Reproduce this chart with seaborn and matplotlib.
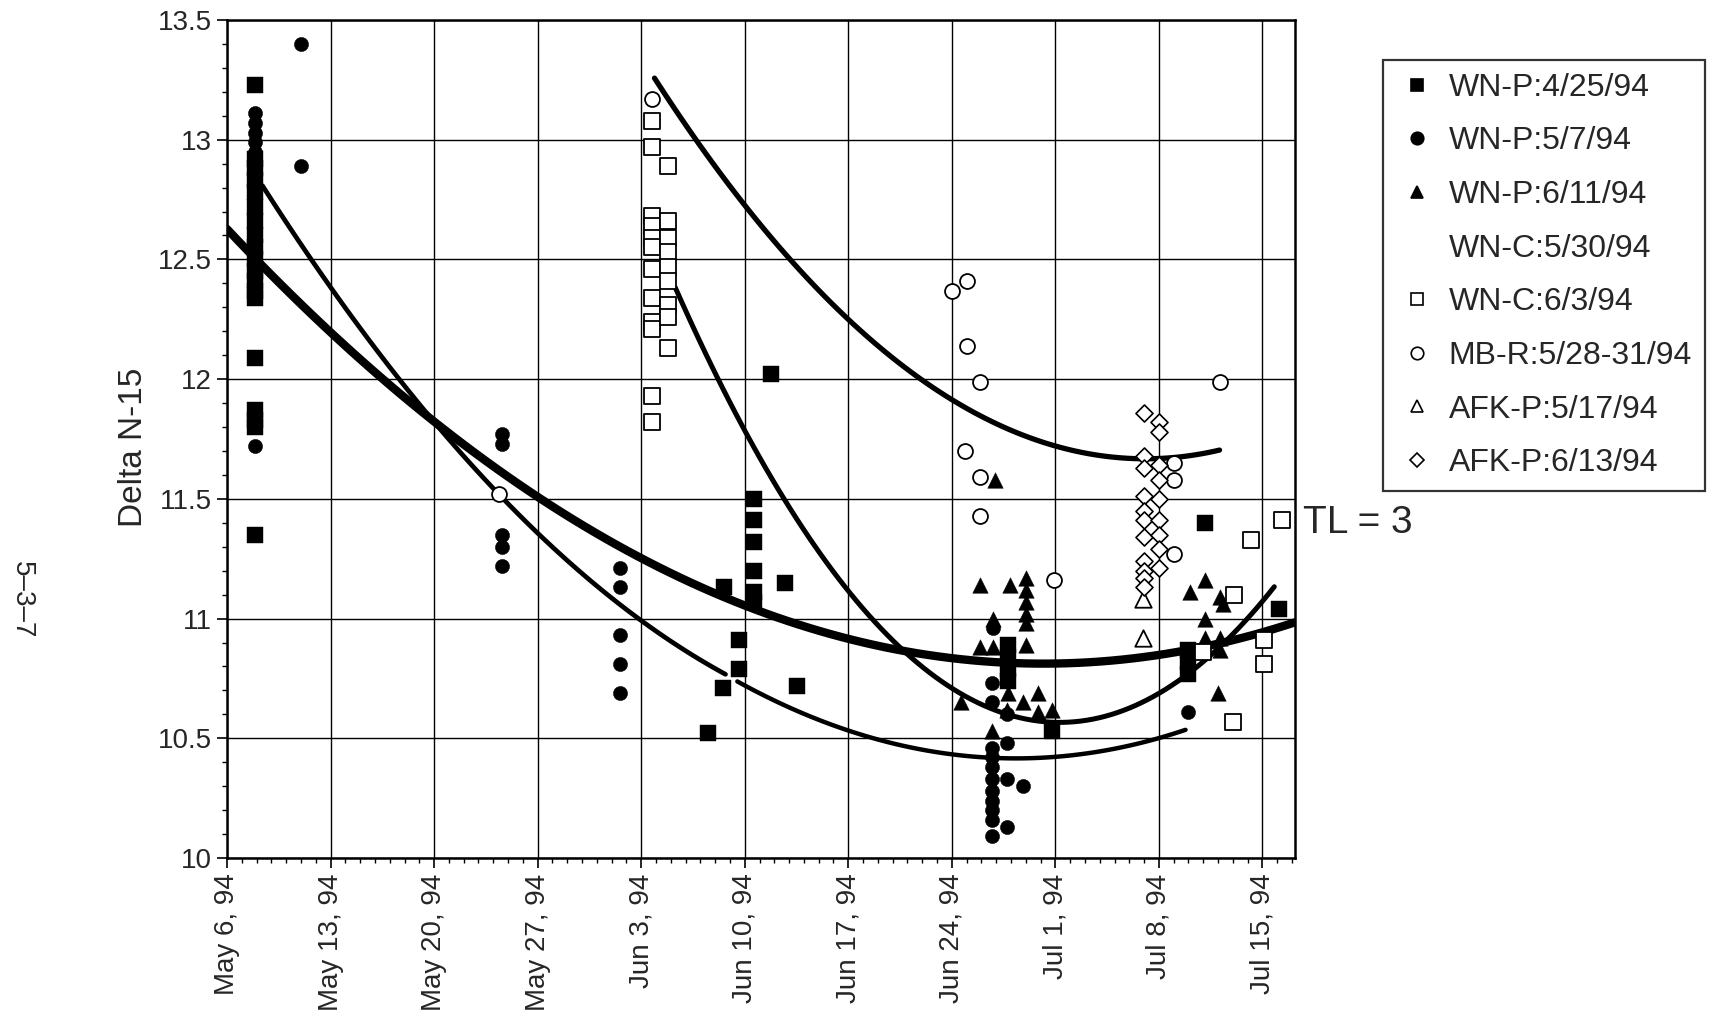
import numpy as np
import pandas as pd
import seaborn as sns
import matplotlib.pyplot as plt
from matplotlib.ticker import MultipleLocator
from matplotlib.lines import Line2D

# ---------------- data (x = days after May 6, 1994) ----------------
tick_days = [0, 7, 14, 21, 28, 35, 42, 49, 56, 63, 70]
tick_labels = ["May 6, 94", "May 13, 94", "May 20, 94", "May 27, 94", "Jun 3, 94",
               "Jun 10, 94", "Jun 17, 94", "Jun 24, 94", "Jul 1, 94", "Jul 8, 94", "Jul 15, 94"]
y_ticks = [10, 10.5, 11, 11.5, 12, 12.5, 13, 13.5]
y_tick_labels = ["10", "10.5", "11", "11.5", "12", "12.5", "13", "13.5"]

legend_labels = ["WN-P:4/25/94", "WN-P:5/7/94", "WN-P:6/11/94", "WN-C:5/30/94",
                 "WN-C:6/3/94", "MB-R:5/28-31/94", "AFK-P:5/17/94", "AFK-P:6/13/94"]

# WN-P:4/25/94  filled squares
wnp425_x = [1.9]*19 + [32.5, 33.5, 33.6, 34.6, 34.6] + [35.6]*6 + [36.8, 37.7, 38.5] \
           + [52.8]*4 + [55.8] + [65.0]*3 + [66.1, 71.1]
wnp425_y = [13.23, 12.92, 12.88, 12.83, 12.78, 12.72, 12.66, 12.60, 12.55, 12.50, 12.45,
            12.41, 12.37, 12.34, 12.09, 11.87, 11.83, 11.80, 11.35,
            10.52, 10.71, 11.13, 10.91, 10.79,
            11.50, 11.41, 11.32, 11.20, 11.11, 11.07,
            12.02, 11.15, 10.72,
            10.89, 10.84, 10.79, 10.74, 10.53,
            10.87, 10.82, 10.77, 11.40, 11.04]

# WN-P:5/7/94  filled circles
wnp57_x = [1.9]*13 + [5.0, 5.0] + [18.6]*5 + [26.6]*5 + [51.8] + [51.7]*11 + [52.7]*4 + [53.8, 65.0]
wnp57_y = [13.11, 13.07, 13.03, 12.99, 12.95, 12.90, 12.85, 12.80, 12.75, 12.70, 12.66, 12.63, 11.72,
           13.40, 12.89,
           11.77, 11.73, 11.35, 11.30, 11.22,
           11.21, 11.13, 10.93, 10.81, 10.69,
           10.96,
           10.73, 10.65, 10.46, 10.42, 10.38, 10.33, 10.28, 10.24, 10.20, 10.16, 10.09,
           10.60, 10.48, 10.33, 10.13,
           10.30, 10.61]

# WN-P:6/11/94  filled triangles
wnp611_x = [50.9, 52.9, 54.0, 54.0, 54.0, 54.0, 54.0, 51.8, 50.9, 51.8, 54.0, 49.6, 52.8,
            53.8, 54.8, 54.8, 55.8, 51.7, 51.9, 52.7,
            66.1, 65.1, 67.1, 67.3, 66.1, 66.1, 67.1, 65.0, 67.0, 67.1]
wnp611_y = [11.14, 11.14, 11.17, 11.12, 11.07, 11.02, 10.98, 11.00, 10.88, 10.88, 10.89, 10.65, 10.69,
            10.65, 10.69, 10.61, 10.62, 10.53, 11.58, 10.62,
            11.16, 11.11, 11.09, 11.06, 11.00, 10.92, 10.92, 10.87, 10.69, 10.87]

# WN-C:6/3/94  open squares
wnc63_x = [28.7]*12 + [29.8]*9 + [66.0, 68.1, 68.0, 69.2, 70.1, 70.1, 71.3]
wnc63_y = [13.08, 12.97, 12.68, 12.64, 12.59, 12.55, 12.46, 12.34, 12.24, 12.21, 11.93, 11.82,
           12.89, 12.66, 12.59, 12.53, 12.47, 12.41, 12.31, 12.26, 12.13,
           10.86, 11.10, 10.57, 11.33, 10.91, 10.81, 11.41]

# MB-R:5/28-31/94  open circles
mbr_x = [18.4, 28.7, 49.0, 50.0, 50.0, 50.9, 49.9, 50.9, 50.9, 55.9, 64.0, 64.0, 64.0, 67.1]
mbr_y = [11.52, 13.17, 12.37, 12.41, 12.14, 11.99, 11.70, 11.59, 11.43, 11.16, 11.65, 11.58, 11.27, 11.99]

# AFK-P:5/17/94  open triangles
afk517_x = [61.9, 61.9]
afk517_y = [11.08, 10.92]

# AFK-P:6/13/94  open diamonds
afk613_x = [62.0]*11 + [63.0]*9
afk613_y = [11.86, 11.68, 11.63, 11.51, 11.45, 11.41, 11.34, 11.24, 11.20, 11.17, 11.13,
            11.82, 11.78, 11.64, 11.58, 11.50, 11.41, 11.35, 11.29, 11.21]

# trend curves
curve1_x = [0.0, 6.9, 13.7, 20.6, 27.5, 32.6, 46.8, 55.8, 62.5, 72.2]
curve1_y = [12.64, 12.19, 11.84, 11.51, 11.27, 11.12, 10.86, 10.82, 10.84, 10.98]
curve2_x = [2.4, 6.9, 13.7, 18.4, 20.6, 27.5, 32.6, 33.7]
curve2_y = [12.80, 12.41, 11.83, 11.52, 11.38, 11.02, 10.80, 10.77]
curve3_x = [34.5, 41.6, 45.4, 46.8, 51.3, 55.8, 62.8, 64.8]
curve3_y = [10.74, 10.54, 10.47, 10.45, 10.42, 10.43, 10.50, 10.53]
curve4_x = [30.3, 32.8, 35.6, 37.5, 41.7, 45.4, 46.8, 49.7, 55.8, 62.5, 64.8, 68.0, 70.8]
curve4_y = [12.41, 12.05, 11.70, 11.50, 11.13, 10.88, 10.83, 10.66, 10.58, 10.70, 10.77, 10.92, 11.12]
curve5_x = [28.9, 31.7, 34.8, 38.5, 46.8, 55.8, 62.1, 67.1]
curve5_y = [13.26, 13.00, 12.74, 12.47, 12.00, 11.73, 11.67, 11.70]

# ---------------- figure ----------------
sns.set_style("white")
plt.rcParams['font.family'] = ['Liberation Sans', 'DejaVu Sans']

W, H = 1717, 1019
fig = plt.figure(figsize=(W / 100, H / 100), dpi=100)
ax = fig.add_axes([227 / W, 1 - 858 / H, (1295 - 227) / W, (858 - 20) / H])

# curves
for cx, cy, lw in [(curve1_x, curve1_y, 6.0), (curve2_x, curve2_y, 3.4),
                   (curve3_x, curve3_y, 3.2), (curve4_x, curve4_y, 3.6),
                   (curve5_x, curve5_y, 3.8)]:
    sns.regplot(x=np.array(cx), y=np.array(cy), order=2, scatter=False, ci=None,
                truncate=True, color="black", line_kws={"lw": lw, "zorder": 2.5}, ax=ax)

# markers
sc = dict(ax=ax, zorder=3, legend=False)
sns.scatterplot(x=wnp425_x, y=wnp425_y, marker="s", s=130, color="black", edgecolor="black", linewidth=0.3, **sc)
sns.scatterplot(x=wnp57_x, y=wnp57_y, marker="o", s=105, color="black", edgecolor="black", linewidth=0.3, **sc)
sns.scatterplot(x=wnp611_x, y=wnp611_y, marker="^", s=125, color="black", edgecolor="black", linewidth=0.3, **sc)
sns.scatterplot(x=wnc63_x, y=wnc63_y, marker="s", s=130, color="white", edgecolor="black", linewidth=1.3, **sc)
sns.scatterplot(x=mbr_x, y=mbr_y, marker="o", s=115, color="white", edgecolor="black", linewidth=1.3, **sc)
sns.scatterplot(x=afk517_x, y=afk517_y, marker="^", s=140, color="white", edgecolor="black", linewidth=1.3, **sc)
sns.scatterplot(x=afk613_x, y=afk613_y, marker="D", s=75, color="white", edgecolor="black", linewidth=1.2, **sc)

# axes styling
ax.set_xlim(0, 72.2)
ax.set_ylim(10, 13.5)
ax.set_xticks(tick_days)
ax.set_xticklabels(tick_labels, rotation=90, fontsize=20, va="top", ha="center")
ax.set_yticks(y_ticks)
ax.set_yticklabels(y_tick_labels, fontsize=20)
ax.xaxis.set_minor_locator(MultipleLocator(1))
ax.yaxis.set_minor_locator(MultipleLocator(0.1))
ax.tick_params(which="major", direction="out", length=7, width=1.2, color="black", pad=4)
ax.tick_params(which="minor", direction="out", length=3.5, width=1.0, color="black")
ax.tick_params(axis="both", which="both", bottom=True, left=True)
ax.grid(True, which="major", color="black", linewidth=1.0)
ax.set_axisbelow(True)
for sp in ax.spines.values():
    sp.set_color("black")
    sp.set_linewidth(1.8)

ax.set_xlabel("")
ax.set_ylabel("Delta N-15", fontsize=24)
ax.yaxis.set_label_coords((149 - 227) / (1295 - 227), 0.49)

# legend
markers = [("s", "black"), ("o", "black"), ("^", "black"), (None, None),
           ("s", "white"), ("o", "white"), ("^", "white"), ("D", "white")]
handles = []
for (m, fc) in markers:
    if m is None:
        handles.append(Line2D([], [], ls="none", marker="None"))
    else:
        handles.append(Line2D([], [], ls="none", marker=m, markersize=9 if m != "D" else 7.5,
                              markerfacecolor=fc, markeredgecolor="black", markeredgewidth=1.2))
leg = fig.legend(handles, legend_labels, loc="upper left",
                 bbox_to_anchor=(1383 / W, 1 - 60 / H), borderaxespad=0,
                 fontsize=23, frameon=True, fancybox=False, shadow=False,
                 handlelength=1.3, handletextpad=0.35, borderpad=0.4, labelspacing=0.74)
leg.get_frame().set_edgecolor("black")
leg.get_frame().set_linewidth(1.6)

fig.text(1303 / W, 1 - 523 / H, "TL = 3", fontsize=28, va="center", ha="left")
fig.text(22 / W, 1 - 600 / H, "5\u20133\u20137", fontsize=20, rotation=-90, va="center", ha="center")

fig.savefig("out.png", dpi=100, facecolor="white")
